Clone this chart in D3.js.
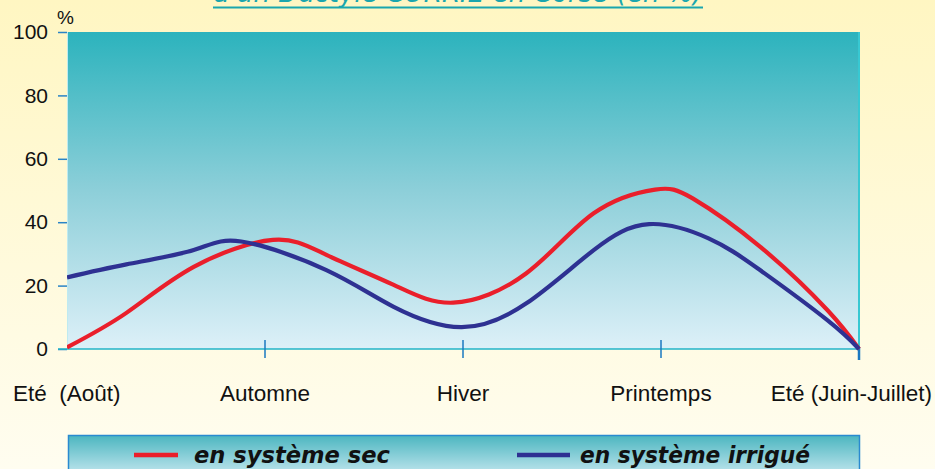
<!DOCTYPE html>
<html><head><meta charset="utf-8">
<script src="https://cdn.jsdelivr.net/npm/d3@7"></script>
<style>html,body{margin:0;padding:0;overflow:hidden;}svg{display:block;}</style>
</head><body>
<svg id="c" width="935" height="469"></svg>
<script>
const categories = ["Eté  (Août)", "Automne", "Hiver", "Printemps", "Eté (Juin-Juillet)"];
const yTicks = [0, 20, 40, 60, 80, 100];
const title = "d'un Dactyle CURRIE en Corse (en %)";
const seriesNames = ["en système sec", "en système irrigué"];
// positions along the season axis (0 = Eté Août ... 4 = Eté Juin-Juillet)
const secX = [0, 0.3, 0.64, 1.04, 1.31, 1.65, 1.95, 2.32, 2.66, 2.97, 3.16, 3.5, 3.84, 4];
const secY = [0.5, 11.4, 25.9, 34.4, 29.7, 20.2, 14.6, 23.9, 42.8, 50.3, 47.5, 32.3, 12.3, 0];
const irrX = [0, 0.3, 0.64, 0.88, 1.31, 1.65, 1.99, 2.32, 2.66, 2.94, 3.24, 3.5, 3.84, 4];
const irrY = [22.6, 26.7, 31.2, 33.9, 24.9, 13.3, 6.9, 14.4, 31.2, 39.4, 34.9, 24.9, 9.1, 0];

const svg = d3.select("#c");
const W = 935, H = 469;
const L = 67, R = 859, T = 32, B = 349;
const defs = svg.append("defs");
const g1 = defs.append("linearGradient").attr("id","pg").attr("x1",0).attr("y1",0).attr("x2",0).attr("y2",1);
g1.append("stop").attr("offset","0%").attr("stop-color","#fff6c2");
g1.append("stop").attr("offset","100%").attr("stop-color","#fffdf0");
const g2 = defs.append("linearGradient").attr("id","plg").attr("x1",0).attr("y1",0).attr("x2",0).attr("y2",1);
g2.append("stop").attr("offset","0%").attr("stop-color","#2cb3bd");
g2.append("stop").attr("offset","50%").attr("stop-color","#8dcfd9");
g2.append("stop").attr("offset","100%").attr("stop-color","#ddf0f8");
const g3 = defs.append("linearGradient").attr("id","lg").attr("x1",0).attr("y1",0).attr("x2",0).attr("y2",1);
g3.append("stop").attr("offset","0%").attr("stop-color","#4cb6c0");
g3.append("stop").attr("offset","100%").attr("stop-color","#c4e7ef");

svg.append("rect").attr("width",W).attr("height",H).attr("fill","url(#pg)");

const x = d3.scaleLinear().domain([0, categories.length - 1]).range([L, R]);
const y = d3.scaleLinear().domain([0, 100]).range([B, T]);

// title (cut off at top, as in the source image)
svg.append("text").attr("x", 213).attr("y", 2)
  .attr("font-family","DejaVu Sans").attr("font-style","italic").attr("font-size",28)
  .attr("textLength",490).attr("lengthAdjust","spacingAndGlyphs")
  .attr("fill","#1aa6ae").text(title);
svg.append("line").attr("x1",213).attr("x2",703).attr("y1",7.5).attr("y2",7.5)
  .attr("stroke","#1aa6ae").attr("stroke-width",2);

// plot background
svg.append("rect").attr("x",L).attr("y",T).attr("width",R-L).attr("height",B-T).attr("fill","url(#plg)");
svg.append("line").attr("x1",L+0.5).attr("x2",L+0.5).attr("y1",T).attr("y2",B).attr("stroke","#bfeaf0").attr("stroke-width",1);
svg.append("line").attr("x1",R).attr("x2",R).attr("y1",T).attr("y2",B).attr("stroke","#38c8d2").attr("stroke-width",2);

// y axis
const yAxis = d3.axisLeft(y).tickValues(yTicks).tickSize(9).tickPadding(10);
const ya = svg.append("g").attr("transform",`translate(${L},0)`).call(yAxis);
ya.select(".domain").remove();
ya.selectAll(".tick line").attr("stroke","#2a84c6").attr("stroke-width",1.5);
ya.selectAll(".tick text").attr("font-family","Liberation Sans, Arial, sans-serif").attr("font-size",21).attr("fill","#111");
svg.append("text").attr("x",57).attr("y",24).attr("font-family","Liberation Sans, Arial, sans-serif").attr("font-size",19).attr("fill","#111").text("%");

// x axis line
svg.append("line").attr("x1",58).attr("x2",R).attr("y1",B).attr("y2",B).attr("stroke","#22b4c8").attr("stroke-width",1.5);
const xa = svg.append("g");
xa.selectAll("line").data(categories.slice(1)).join("line")
  .attr("x1",(d,i)=>x(i+1)).attr("x2",(d,i)=>x(i+1))
  .attr("y1",(d,i)=> i===categories.length-2 ? B-1 : B-9).attr("y2",(d,i)=> i===categories.length-2 ? B+11 : B+9)
  .attr("stroke","#1a78c0").attr("stroke-width",(d,i)=> i===categories.length-2 ? 2.5 : 1.5);

xa.selectAll("text").data(categories).join("text")
  .attr("x",(d,i)=> i===0 ? 13 : (i===categories.length-1 ? 932 : x(i)))
  .attr("y",401)
  .attr("text-anchor",(d,i)=> i===0 ? "start" : (i===categories.length-1 ? "end" : "middle"))
  .attr("font-family","Liberation Sans, Arial, sans-serif").attr("font-size",22.5).attr("fill","#111")
  .attr("xml:space","preserve")
  .text(d=>d);

// lines
const line = d3.line().x(d=>x(d[0])).y(d=>y(d[1])).curve(d3.curveNatural);
const sec = secX.map((v,i)=>[v, secY[i]]);
const irr = irrX.map((v,i)=>[v, irrY[i]]);
const clip = defs.append("clipPath").attr("id","cp");
clip.append("rect").attr("x",L).attr("y",T).attr("width",R-L+2).attr("height",B-T+2);
const lg = svg.append("g").attr("clip-path","url(#cp)");
lg.append("path").datum(sec).attr("d",line).attr("fill","none").attr("stroke","#ea1f2b").attr("stroke-width",4.2).attr("stroke-linejoin","round");
lg.append("path").datum(irr).attr("d",line).attr("fill","none").attr("stroke","#2e3192").attr("stroke-width",4.2).attr("stroke-linejoin","round");

// legend
svg.append("rect").attr("x",68.5).attr("y",435.5).attr("width",791).attr("height",40).attr("fill","url(#lg)").attr("stroke","#2a8ad0").attr("stroke-width",1.5);
const legItems = [
  {name: seriesNames[0], color:"#ea1f2b", x1:134, x2:178, tx:194, tw:196},
  {name: seriesNames[1], color:"#2e3192", x1:517, x2:570, tx:580, tw:230}
];
legItems.forEach(it=>{
  svg.append("line").attr("x1",it.x1).attr("x2",it.x2).attr("y1",455).attr("y2",455).attr("stroke",it.color).attr("stroke-width",4.5);
  svg.append("text").attr("x",it.tx).attr("y",463).attr("font-family","DejaVu Sans, sans-serif").attr("font-weight","bold").attr("font-style","italic")
    .attr("font-size",23).attr("fill","#111").attr("textLength",it.tw).attr("lengthAdjust","spacingAndGlyphs").text(it.name);
});
</script>
</body></html>
